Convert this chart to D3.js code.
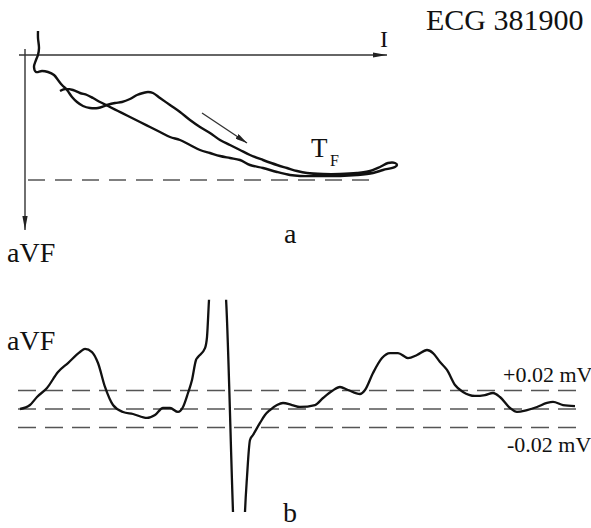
<!DOCTYPE html>
<html>
<head>
<meta charset="utf-8">
<script src="https://cdn.jsdelivr.net/npm/d3@7"></script>
<style>
  body { margin: 0; background: #fff; }
  svg { display: block; }
  text { font-family: "Liberation Serif", "Times New Roman", serif; fill: #111; }
</style>
</head>
<body>
<svg id="chart" width="591" height="528"></svg>
<script>
// (a) T-loop in the I / aVF plane, values in mV
var loopI = [0.013, 0.013, 0.014, 0.013, 0.011, 0.009, 0.011, 0.017, 0.023, 0.029, 0.033, 0.037, 0.042, 0.047, 0.052,
  0.058, 0.065, 0.073, 0.082, 0.090, 0.097, 0.105, 0.112, 0.118, 0.123, 0.128, 0.135, 0.145, 0.155, 0.165, 0.175,
  0.185, 0.195, 0.205, 0.215, 0.225, 0.238, 0.252, 0.262, 0.272, 0.282, 0.298, 0.315, 0.332, 0.345, 0.355, 0.363,
  0.370, 0.372, 0.370, 0.358, 0.348, 0.332, 0.315, 0.295, 0.275, 0.265, 0.252, 0.238, 0.225, 0.215, 0.205, 0.195,
  0.185, 0.175, 0.165, 0.155, 0.145, 0.135, 0.125, 0.115, 0.103, 0.093, 0.083, 0.075, 0.068, 0.062, 0.055, 0.048,
  0.040, 0.035];
var loopAVF = [-0.024, -0.017, -0.007, 0.000, 0.005, 0.012, 0.017, 0.016, 0.017, 0.020, 0.025, 0.030, 0.035, 0.042, 0.047,
  0.051, 0.053, 0.053, 0.050, 0.048, 0.047, 0.044, 0.040, 0.038, 0.037, 0.038, 0.043, 0.050, 0.057, 0.065, 0.072,
  0.078, 0.085, 0.090, 0.095, 0.100, 0.105, 0.110, 0.113, 0.116, 0.118, 0.119, 0.119, 0.118, 0.116, 0.112, 0.108,
  0.108, 0.110, 0.112, 0.115, 0.118, 0.120, 0.121, 0.121, 0.121, 0.120, 0.117, 0.113, 0.110, 0.105, 0.103, 0.101,
  0.098, 0.095, 0.090, 0.085, 0.082, 0.077, 0.072, 0.067, 0.061, 0.056, 0.051, 0.047, 0.043, 0.040, 0.038, 0.035,
  0.034, 0.036];
var tfLevel = 0.125;           // dashed reference level of T_F (aVF, mV)
var arrowI = [0.177, 0.222];   // direction arrow along the loop
var arrowAVF = [0.058, 0.088];

// (b) aVF lead against time
var timeMs = [0, 10, 17, 27, 38, 48, 60, 65, 72, 78, 85, 93, 103, 113, 127, 135, 143, 150, 158, 163, 168, 172, 176, 178,
  185, 187, 189, 191, 204, 206, 213, 214, 224, 225, 227, 230, 233, 240, 245, 250, 257, 263, 272, 280, 295, 303, 312,
  320, 328, 340, 345, 353, 362, 370, 378, 388, 397, 407, 413, 420, 427, 435, 443, 455, 465, 473, 480, 490, 497, 507,
  517, 527, 533, 543, 555];
var aVFmV = [0, 0.0043, 0.0130, 0.0227, 0.0400, 0.0497, 0.0616, 0.0649, 0.0616, 0.0497, 0.0238, 0.0043, -0.0032,
  -0.0054, -0.0097, -0.0065, 0.0011, 0.0011, -0.0032, 0.0022, 0.0173, 0.0314, 0.0530, 0.0562, 0.0659, 0.0778, 0.1178,
  0.1503, 0.1503, 0.1200, -0.1114, -0.1416, -0.1416, -0.1114, -0.0735, -0.0335, -0.0281, -0.0151, -0.0065, -0.0011,
  0.0043, 0.0065, 0.0043, 0.0022, 0.0043, 0.0119, 0.0195, 0.0238, 0.0205, 0.0162, 0.0205, 0.0389, 0.0551, 0.0605,
  0.0605, 0.0551, 0.0584, 0.0638, 0.0605, 0.0508, 0.0422, 0.0259, 0.0184, 0.0141, 0.0151, 0.0173, 0.0130, 0.0011,
  -0.0032, -0.0011, 0.0022, 0.0065, 0.0076, 0.0043, 0.0032];
var bandLevels = [0.02, 0, -0.02];
var bandLabels = ["+0.02 mV", "-0.02 mV"];

var svg = d3.select("#chart");

var defs = svg.append("defs");
function addArrow(id, len, half) {
  defs.append("marker")
      .attr("id", id)
      .attr("markerUnits", "userSpaceOnUse")
      .attr("viewBox", "0 " + (-half) + " " + len + " " + (half * 2))
      .attr("refX", len)
      .attr("refY", 0)
      .attr("markerWidth", len)
      .attr("markerHeight", half * 2)
      .attr("orient", "auto")
    .append("path")
      .attr("d", "M0," + (-half) + "L" + len + ",0L0," + half + "Z")
      .attr("fill", "#222");
}
addArrow("axisHead", 14, 2.6);
addArrow("dirHead", 12, 2.8);

// ---------- panel a ----------
var xI = d3.scaleLinear().domain([0, 0.1]).range([25, 125]);
var yF = d3.scaleLinear().domain([0, 0.1]).range([55, 155]);

var a = svg.append("g");

a.append("line")
    .attr("x1", xI(-0.006)).attr("x2", xI(0.362))
    .attr("y1", yF(0)).attr("y2", yF(0))
    .attr("stroke", "#333").attr("stroke-width", 1.4)
    .attr("marker-end", "url(#axisHead)");

a.append("line")
    .attr("x1", xI(0)).attr("x2", xI(0))
    .attr("y1", yF(-0.006)).attr("y2", yF(0.175))
    .attr("stroke", "#333").attr("stroke-width", 1.4)
    .attr("marker-end", "url(#axisHead)");

a.append("line")
    .attr("x1", xI(0.003)).attr("x2", xI(0.350))
    .attr("y1", yF(tfLevel)).attr("y2", yF(tfLevel))
    .attr("stroke", "#555").attr("stroke-width", 1.6)
    .attr("stroke-dasharray", "17,10");

var loopPts = loopI.map(function (v, i) { return [v, loopAVF[i]]; });
var loopLine = d3.line()
    .x(function (d) { return xI(d[0]); })
    .y(function (d) { return yF(d[1]); })
    .curve(d3.curveCatmullRom.alpha(0.5));

a.append("path")
    .attr("d", loopLine(loopPts))
    .attr("fill", "none")
    .attr("stroke", "#111")
    .attr("stroke-width", 2.4)
    .attr("stroke-linejoin", "round");

a.append("line")
    .attr("x1", xI(arrowI[0])).attr("y1", yF(arrowAVF[0]))
    .attr("x2", xI(arrowI[1])).attr("y2", yF(arrowAVF[1]))
    .attr("stroke", "#333").attr("stroke-width", 1.3)
    .attr("marker-end", "url(#dirHead)");

a.append("text").attr("x", 380).attr("y", 47).style("font-size", "24px").text("I");
a.append("text").attr("x", 426).attr("y", 30).style("font-size", "30px").text("ECG 381900");
a.append("text").attr("x", 7).attr("y", 262).style("font-size", "28px").text("aVF");
a.append("text").attr("x", 284).attr("y", 243).style("font-size", "28px").text("a");
a.append("text").attr("x", 311).attr("y", 157).style("font-size", "27px").text("T");
a.append("text").attr("x", 330).attr("y", 166).style("font-size", "16px").text("F");

// ---------- panel b ----------
var xT = d3.scaleLinear().domain([0, 555]).range([20, 575]);
var yV = d3.scaleLinear().domain([-0.02, 0.02]).range([427.5, 390.5]);

var b = svg.append("g");

defs.append("clipPath").attr("id", "qrsClip")
  .append("rect")
    .attr("x", 0).attr("width", 591)
    .attr("y", yV(0.118)).attr("height", yV(-0.1114) - yV(0.118));

b.selectAll(".band")
    .data(bandLevels)
    .enter().append("line")
    .attr("class", "band")
    .attr("x1", xT(-2)).attr("x2", xT(562))
    .attr("y1", function (d) { return yV(d); })
    .attr("y2", function (d) { return yV(d); })
    .attr("stroke", "#555").attr("stroke-width", 1.6)
    .attr("stroke-dasharray", "18,9");

var wave = timeMs.map(function (t, i) { return [t, aVFmV[i]]; });
var waveLine = d3.line()
    .x(function (d) { return xT(d[0]); })
    .y(function (d) { return yV(d[1]); })
    .curve(d3.curveMonotoneX);

b.append("path")
    .attr("d", waveLine(wave))
    .attr("clip-path", "url(#qrsClip)")
    .attr("fill", "none")
    .attr("stroke", "#111")
    .attr("stroke-width", 2.3)
    .attr("stroke-linejoin", "round");

b.append("text").attr("x", 503).attr("y", yV(0.02) - 9).style("font-size", "22px").text(bandLabels[0]);
b.append("text").attr("x", 507).attr("y", yV(-0.02) + 24).style("font-size", "22px").text(bandLabels[1]);
b.append("text").attr("x", 7).attr("y", 350).style("font-size", "28px").text("aVF");
b.append("text").attr("x", 283).attr("y", 522).style("font-size", "28px").text("b");
</script>
</body>
</html>
